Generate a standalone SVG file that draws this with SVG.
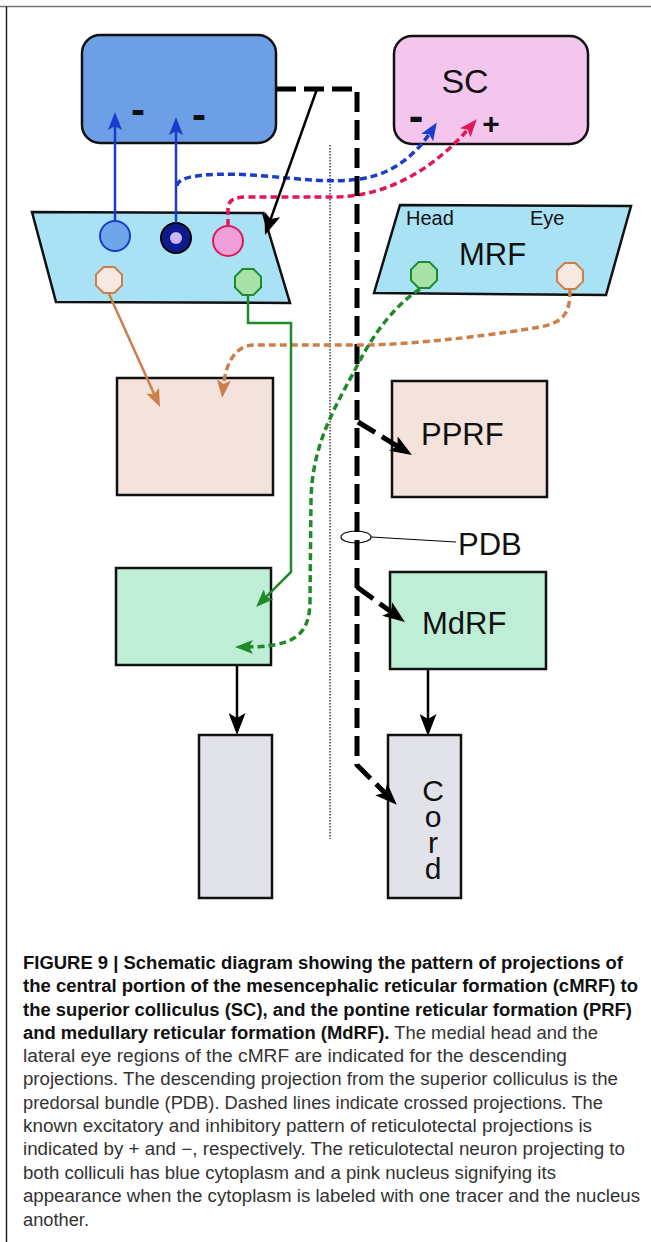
<svg xmlns="http://www.w3.org/2000/svg" width="651" height="1242" viewBox="0 0 651 1242">
<style>
.box{stroke:#111;stroke-width:2.5}
.lbl{font-family:"Liberation Sans",Arial,sans-serif;fill:#111}
.sign{font-family:"Liberation Sans",Arial,sans-serif;font-weight:bold;fill:#111;text-anchor:middle}
.cap{font-family:"Liberation Sans",Arial,sans-serif;font-size:17.5px;fill:#333}
.capb{font-weight:bold;fill:#111}
.dash{fill:none;stroke-width:3.5;stroke-dasharray:7 4}
.solid{fill:none;stroke-width:2.5}
.bdash{fill:none;stroke:#000;stroke-width:5;stroke-dasharray:20 8}
.vert{writing-mode:vertical-rl;text-orientation:upright}
</style>
<defs>
<marker id="mBlue" viewBox="0 0 18 14" refX="9" refY="7" markerWidth="18" markerHeight="14" markerUnits="userSpaceOnUse" orient="auto"><path d="M0,0 L18,7 L0,14 L4,7 z" fill="#1a3ccc"/></marker>
<marker id="mRed" viewBox="0 0 18 14" refX="9" refY="7" markerWidth="18" markerHeight="14" markerUnits="userSpaceOnUse" orient="auto"><path d="M0,0 L18,7 L0,14 L4,7 z" fill="#e0185a"/></marker>
<marker id="mTan" viewBox="0 0 18 14" refX="9" refY="7" markerWidth="18" markerHeight="14" markerUnits="userSpaceOnUse" orient="auto"><path d="M0,0 L18,7 L0,14 L4,7 z" fill="#cd7f4a"/></marker>
<marker id="mGreen" viewBox="0 0 18 14" refX="9" refY="7" markerWidth="18" markerHeight="14" markerUnits="userSpaceOnUse" orient="auto"><path d="M0,0 L18,7 L0,14 L4,7 z" fill="#1e8a2a"/></marker>
<marker id="mBlack" viewBox="0 0 22 17" refX="11" refY="8.5" markerWidth="22" markerHeight="17" markerUnits="userSpaceOnUse" orient="auto"><path d="M0,0 L22,8.5 L0,17 L5,8.5 z" fill="#000"/></marker>
</defs>
<rect x="0" y="0" width="651" height="1242" fill="#fff"/>
<line x1="0" y1="6.5" x2="651" y2="6.5" stroke="#777" stroke-width="1.5"/>
<line x1="6.5" y1="6.5" x2="6.5" y2="1242" stroke="#222" stroke-width="1.5"/>
<line x1="330" y1="145" x2="330" y2="839" stroke="#444" stroke-width="1.5" stroke-dasharray="1.5 1.5"/>

<g id="target-blue">
<rect class="box" x="82" y="35" width="194" height="108" rx="18" fill="#6c9fe6"/>
<text class="sign" x="138" y="124" font-size="42">-</text>
<text class="sign" x="199" y="129" font-size="42">-</text>
</g>
<g id="SC">
<rect class="box" x="394" y="36" width="194" height="108" rx="18" fill="#f4c6ee"/>
<text class="lbl" x="465" y="93" font-size="34" text-anchor="middle">SC</text>
<text class="sign" x="416" y="131" font-size="44">-</text>
<text class="sign" x="491" y="134" font-size="30">+</text>
</g>
<g id="MRF-left">
<polygon class="box" points="32,212 263,213 290,303 56,302" fill="#a9e2f5"/>
<circle cx="115" cy="236" r="15" fill="#6fa6ea" stroke="#1a3ccc" stroke-width="2"/>
<circle cx="176" cy="238" r="15" fill="#0c1a8c" stroke="#000" stroke-width="2"/>
<circle cx="176" cy="238" r="6" fill="#cbb6f2"/>
<circle cx="228" cy="241" r="15" fill="#f0a0d8" stroke="#e0185a" stroke-width="2"/>
<polygon points="103.6,267 114.4,267 122,274.6 122,285.4 114.4,293 103.6,293 96,285.4 96,274.6" fill="#f7e8e2" stroke="#cd7f4a" stroke-width="2"/>
<polygon points="242.6,269 253.4,269 261,276.6 261,287.4 253.4,295 242.6,295 235,287.4 235,276.6" fill="#a8e2a8" stroke="#1e8a2a" stroke-width="2"/>
</g>
<g id="MRF-right">
<polygon class="box" points="400,205 631,206 606,295 374,293" fill="#a9e2f5"/>
<text class="lbl" x="406" y="225" font-size="20">Head</text>
<text class="lbl" x="530" y="225" font-size="20">Eye</text>
<text class="lbl" x="459" y="265" font-size="31">MRF</text>
<polygon points="418.6,262 429.4,262 437,269.6 437,280.4 429.4,288 418.6,288 411,280.4 411,269.6" fill="#a8e2a8" stroke="#1e8a2a" stroke-width="2"/>
<polygon points="564.6,263 575.4,263 583,270.6 583,281.4 575.4,289 564.6,289 557,281.4 557,270.6" fill="#f7e8e2" stroke="#cd7f4a" stroke-width="2"/>
</g>
<g id="PRF-left"><rect class="box" x="117" y="378" width="156" height="117" fill="#f4e2dc"/></g>
<g id="PPRF">
<rect class="box" x="392" y="381" width="155" height="116" fill="#f4e2dc"/>
<text class="lbl" x="421" y="445" font-size="31">PPRF</text>
</g>
<g id="MdRF-left"><rect class="box" x="116" y="568" width="155" height="97" fill="#bfeed6"/></g>
<g id="MdRF">
<rect class="box" x="390" y="572" width="156" height="97" fill="#bfeed6"/>
<text class="lbl" x="422" y="634" font-size="31">MdRF</text>
</g>
<g id="cord-left"><rect class="box" x="199" y="735" width="73" height="163" fill="#e2e2ea"/></g>
<g id="Cord">
<rect class="box" x="388" y="735" width="73" height="163" fill="#e2e2ea"/>
<text class="lbl vert" x="433" y="774" font-size="30" letter-spacing="-7">Cord</text>
</g>
<g id="PDB">
<ellipse cx="356" cy="537" rx="15" ry="6" fill="none" stroke="#000" stroke-width="1.2"/>
<line x1="371" y1="537" x2="456" y2="542" stroke="#000" stroke-width="1"/>
<text class="lbl" x="458" y="555" font-size="31">PDB</text>
</g>

<g id="connectors">
<path class="solid" stroke="#1a3ccc" stroke-width="3" d="M115,221 V121" marker-end="url(#mBlue)"/>
<path class="solid" stroke="#1a3ccc" stroke-width="3" d="M176,223 V126" marker-end="url(#mBlue)"/>
<path class="dash" stroke="#1a3ccc" d="M177,186 C177,174 220,172 265,176 C300,179 330,183 360,179 C395,174 418,152 432,130" marker-end="url(#mBlue)"/>
<path class="dash" stroke="#e0185a" d="M228,226 L228,209 C228,200 234,197 248,197 L335,197 C395,196 440,162 471,126" marker-end="url(#mRed)"/>
<path class="bdash" d="M276,89 H357 V765 L389,797" marker-end="url(#mBlack)"/>
<path class="solid" stroke="#000" d="M317,89 L268.7,224.6" marker-end="url(#mBlack)"/>
<path class="bdash" d="M358,422 L402.6,449.3" marker-end="url(#mBlack)"/>
<path class="bdash" d="M357,587 L396,615.5" marker-end="url(#mBlack)"/>
<path class="solid" stroke="#000" d="M237,665 V724" marker-end="url(#mBlack)"/>
<path class="solid" stroke="#000" d="M428,669 V725" marker-end="url(#mBlack)"/>
<path class="solid" stroke="#cd7f4a" stroke-width="3" d="M109,294 L156.3,398.8" marker-end="url(#mTan)"/>
<path class="dash" stroke="#cd7f4a" d="M570,290 C570,312 565,322 540,327 C500,334 430,343 370,345 L255,345 C238,345 226,358 223,389" marker-end="url(#mTan)"/>
<path class="solid" stroke="#1e8a2a" stroke-width="3" d="M248,296 V323 H291 V572 L262.4,600.6" marker-end="url(#mGreen)"/>
<path class="dash" stroke="#1e8a2a" d="M420,289 C395,305 372,335 355,370 C330,415 312,450 311,500 L310,600 C310,635 295,647 244,647" marker-end="url(#mGreen)"/>
</g>

<g id="caption" class="cap">
<text x="23" y="969" textLength="600" lengthAdjust="spacingAndGlyphs" class="capb">FIGURE 9 | Schematic diagram showing the pattern of projections of</text>
<text x="23" y="992" textLength="615" lengthAdjust="spacingAndGlyphs" class="capb">the central portion of the mesencephalic reticular formation (cMRF) to</text>
<text x="23" y="1015.5" textLength="609" lengthAdjust="spacingAndGlyphs" class="capb">the superior colliculus (SC), and the pontine reticular formation (PRF)</text>
<text x="23" y="1038.5" textLength="575" lengthAdjust="spacingAndGlyphs"><tspan class="capb">and medullary reticular formation (MdRF).</tspan> The medial head and the</text>
<text x="23" y="1062" textLength="544" lengthAdjust="spacingAndGlyphs">lateral eye regions of the cMRF are indicated for the descending</text>
<text x="23" y="1085" textLength="595" lengthAdjust="spacingAndGlyphs">projections. The descending projection from the superior colliculus is the</text>
<text x="23" y="1108.5" textLength="580" lengthAdjust="spacingAndGlyphs">predorsal bundle (PDB). Dashed lines indicate crossed projections. The</text>
<text x="23" y="1132" textLength="569" lengthAdjust="spacingAndGlyphs">known excitatory and inhibitory pattern of reticulotectal projections is</text>
<text x="23" y="1155" textLength="602" lengthAdjust="spacingAndGlyphs">indicated by + and −, respectively. The reticulotectal neuron projecting to</text>
<text x="23" y="1178.5" textLength="533" lengthAdjust="spacingAndGlyphs">both colliculi has blue cytoplasm and a pink nucleus signifying its</text>
<text x="23" y="1202" textLength="617" lengthAdjust="spacingAndGlyphs">appearance when the cytoplasm is labeled with one tracer and the nucleus</text>
<text x="23" y="1225.5" textLength="66" lengthAdjust="spacingAndGlyphs">another.</text>
</g>
</svg>
